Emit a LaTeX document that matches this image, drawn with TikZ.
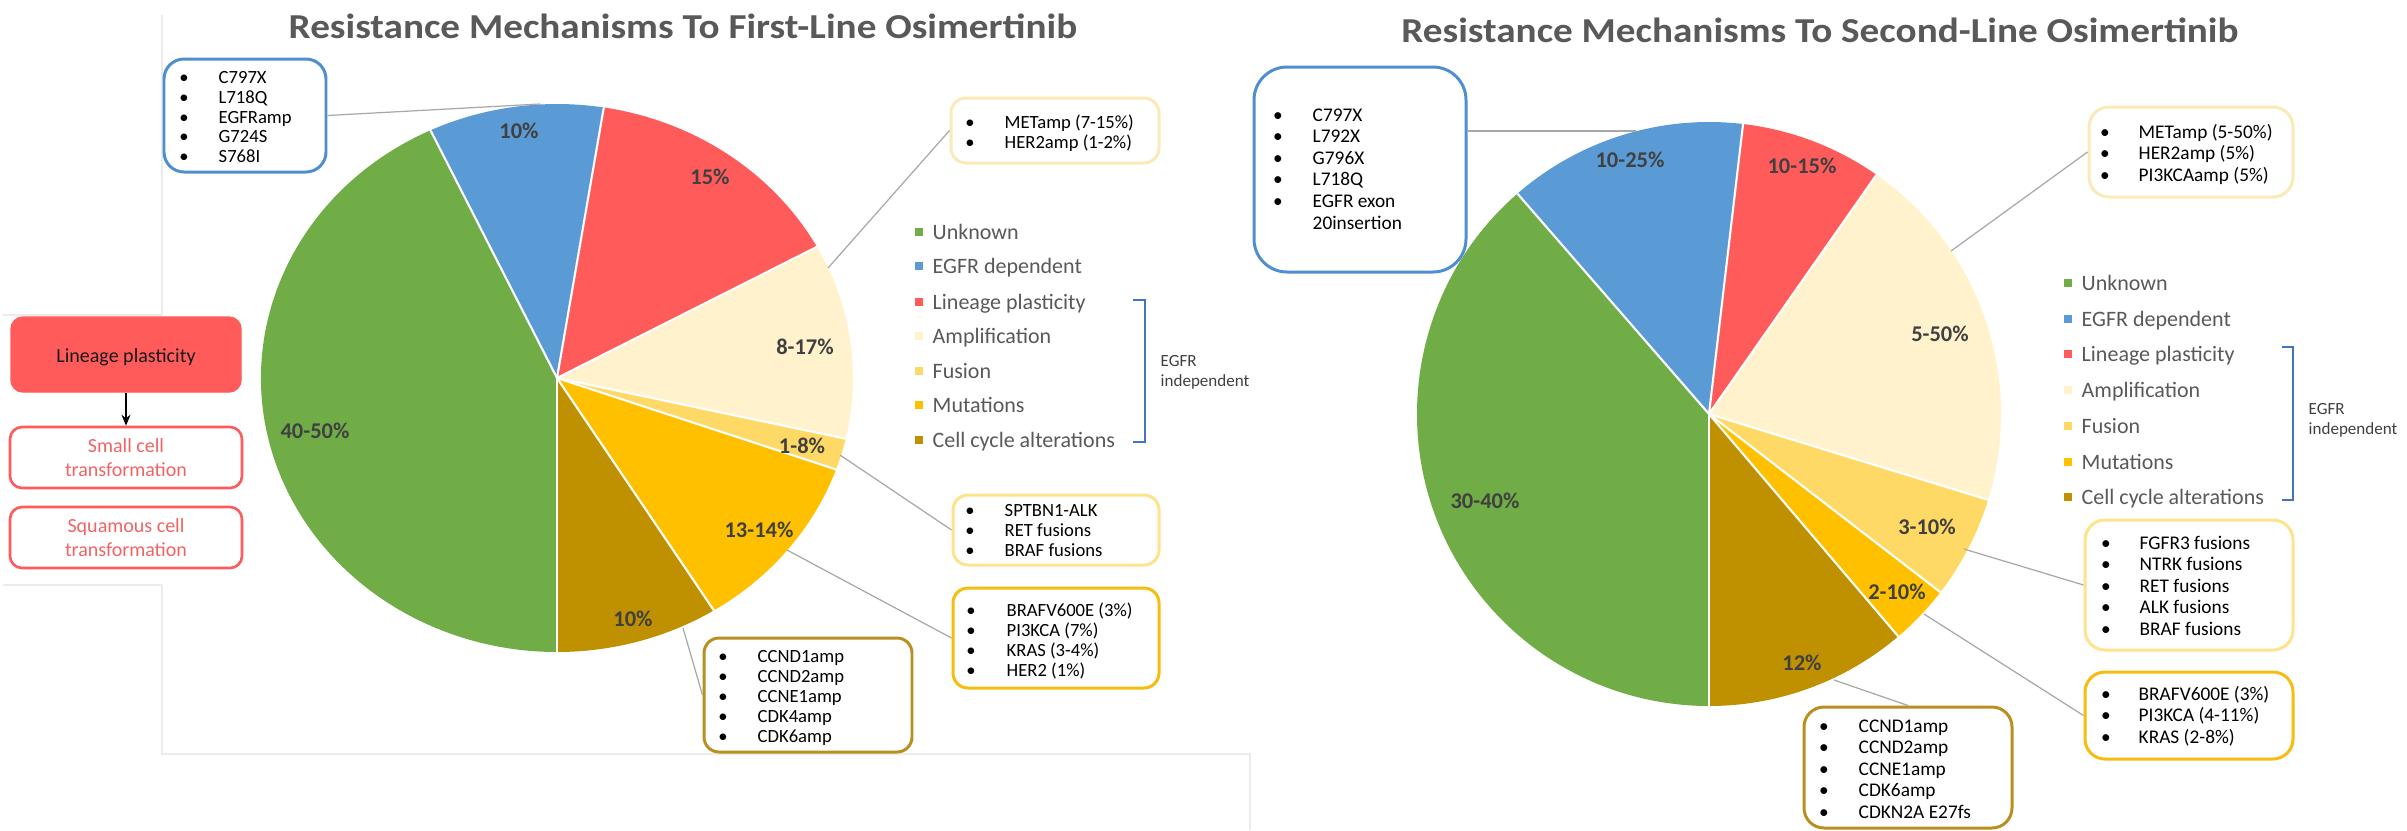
\documentclass[tikz,border=0pt]{standalone}
\usepackage{fontspec}
\setmainfont{Carlito}
\usetikzlibrary{arrows.meta}
\definecolor{cgreen}{HTML}{70AD47}
\definecolor{cblue}{HTML}{5B9BD5}
\definecolor{cbluebox}{HTML}{4F8FD0}
\definecolor{cred}{HTML}{FF5B5B}
\definecolor{ccream}{HTML}{FFF2CC}
\definecolor{cfus}{HTML}{FFD966}
\definecolor{cmut}{HTML}{FFC000}
\definecolor{cbrown}{HTML}{BF9000}
\definecolor{bmet}{HTML}{FBEAB8}
\definecolor{bfus}{HTML}{FFE28C}
\definecolor{bmut}{HTML}{F7BC10}
\definecolor{bccnd}{HTML}{B98F22}
\definecolor{ctitle}{HTML}{595959}
\definecolor{clab}{HTML}{404040}
\definecolor{cbrack}{HTML}{4472C4}
\definecolor{cconn}{HTML}{A8A8A8}
\definecolor{cframe}{HTML}{EBEBEB}
\definecolor{credtext}{HTML}{F06464}
\newcommand\pslice[7]{\fill[#7] (#1,#2) -- ({#1+#3*cos(#5)},{#2-#4*sin(#5)}) arc[start angle={-(#5)}, end angle={-(#6)}, x radius=#3, y radius=#4] -- cycle;}
\newcommand\prad[5]{\draw[sepline] (#1,#2) -- ({#1+#3*cos(#5)},{#2-#4*sin(#5)});}
\tikzset{
  sepline/.style={white, line width=0.6pt},
  ttl/.style={font=\bfseries\fontsize{9.96pt}{12pt}\selectfont, text=ctitle, inner sep=0pt, anchor=base},
  pct/.style={font=\bfseries\fontsize{6.4pt}{7pt}\selectfont, text=clab, inner sep=0pt},
  lgd/.style={font=\fontsize{6.26pt}{7pt}\selectfont, text=ctitle, inner sep=0pt, anchor=base west},
  lsq/.style={minimum size=0.8mm, inner sep=0pt},
  indep/.style={font=\fontsize{4.85pt}{5.7pt}\selectfont, text=clab, inner sep=0pt, align=left, anchor=west},
  ibox/.style={draw, line width=0.85pt, fill=white, inner sep=0pt},
  itl/.style={font=\fontsize{5.3pt}{5.69pt}\selectfont, inner sep=0pt},
  itr/.style={font=\fontsize{5.5pt}{6.15pt}\selectfont, inner sep=0pt},
  conn/.style={cconn, line width=0.35pt},
  brack/.style={cbrack, line width=0.55pt},
  frame/.style={cframe, line width=0.3pt},
  redbox/.style={draw=cred, line width=0.75pt, rounded corners=1.2mm, minimum width=23.2mm, minimum height=6.1mm, inner sep=0pt, align=center, font=\fontsize{5.7pt}{6.83pt}\selectfont, text=credtext}
}
\begin{document}
\begin{tikzpicture}[x=0.1mm, y=-0.1mm]
\useasboundingbox (0,0) rectangle (2407,830);
\fill[white] (0,0) rectangle (2407,830);

% faint frames
\draw[frame] (162,15) -- (162,315);
\draw[frame] (3,315) -- (162,315);
\draw[frame] (3,585) -- (162,585);
\draw[frame] (162,585) -- (162,754) -- (1250,754) -- (1250,830);

% titles
\node[ttl] (T1) at (683,38) {\scalebox{1.12}[1]{Resistance Mechanisms To First-Line Osimertinib}};
\node[ttl] (T2) at (1820,42) {\scalebox{1.12}[1]{Resistance Mechanisms To Second-Line Osimertinib}};

% ---------- left pie ----------
\pslice{557}{378}{296}{274}{80.9}{115.3}{cblue}
\pslice{557}{378}{296}{274}{28.6}{80.9}{cred}
\pslice{557}{378}{296}{274}{-12.8}{28.6}{ccream}
\pslice{557}{378}{296}{274}{-19.5}{-12.8}{cfus}
\pslice{557}{378}{296}{274}{-58}{-19.5}{cmut}
\pslice{557}{378}{296}{274}{-90}{-58}{cbrown}
\pslice{557}{378}{296}{274}{115.3}{270}{cgreen}
\foreach \a in {80.9,115.3,28.6,-12.8,-19.5,-58,-90}{\prad{557}{378}{296}{274}{\a}}

\node[pct] (l1) at (519,131) {10\%};
\node[pct] (l2) at (710,177) {15\%};
\node[pct] (l3) at (805,347) {8-17\%};
\node[pct] (l4) at (802,446) {1-8\%};
\node[pct] (l5) at (759,530) {13-14\%};
\node[pct] (l6) at (633,619) {10\%};
\node[pct] (l7) at (315,431) {40-50\%};

% left legend
\foreach \y/\c/\t [count=\i] in {232/cgreen/Unknown, 266/cblue/EGFR dependent, 302/cred/Lineage plasticity, 336/ccream/Amplification, 371/cfus/Fusion, 405/cmut/Mutations, 440/cbrown/Cell cycle alterations}{
  \node[lsq, fill=\c] (lsq\i) at (919,\y) {};
  \node[lgd] (lt\i) at (932,\y+7) {\t};
}
\draw[brack] (1133,300) -- (1145,300) -- (1145,442) -- (1133,442);
\node[indep] (lind) at (1160,372) {EGFR\\independent};

% left panel
\node[fill=cred, draw=cred, rounded corners=1.2mm, minimum width=23mm, minimum height=7.5mm, inner sep=0pt] (LP) at (126,354.5) {};
\node[font=\fontsize{5.7pt}{6.8pt}\selectfont, text=black!90, inner sep=0pt, anchor=base] (LPt) at (126,362) {Lineage plasticity};
\node[redbox] (SC) at (126,457.5) {Small cell\\transformation};
\node[redbox] (SQ) at (126,537.5) {Squamous cell\\transformation};
\draw[-{Stealth[length=1.1mm,width=0.9mm]}, line width=0.35pt] (LP.south) -- (SC.north);

% left boxes
\node[ibox, draw=cbluebox, rounded corners=2mm, minimum width=16.2mm, minimum height=11.3mm] (LB) at (245,115.5) {};
\node[itl, anchor=base] (LBb) at (184,83) {\begin{tabular}[t]{@{}c@{}}•\\•\\•\\•\\•\end{tabular}};
\node[itl, anchor=base west] (LBt) at (218,83) {\begin{tabular}[t]{@{}l@{}}C797X\\L718Q\\EGFRamp\\G724S\\S768I\end{tabular}};

\node[ibox, draw=bmet, rounded corners=1.5mm, minimum width=20.8mm, minimum height=6.5mm] (LM) at (1055,130.5) {};
\node[itl, anchor=base] (LMb) at (970,128) {\begin{tabular}[t]{@{}c@{}}•\\•\end{tabular}};
\node[itl, anchor=base west] (LMt) at (1004,128) {\begin{tabular}[t]{@{}l@{}}METamp (7-15\%)\\HER2amp (1-2\%)\end{tabular}};

\node[ibox, draw=bfus, rounded corners=1.5mm, minimum width=20.6mm, minimum height=7mm] (LF) at (1056,530) {};
\node[itl, anchor=base] (LFb) at (970,516) {\begin{tabular}[t]{@{}c@{}}•\\•\\•\end{tabular}};
\node[itl, anchor=base west] (LFt) at (1004,516) {\begin{tabular}[t]{@{}l@{}}SPTBN1-ALK\\RET fusions\\BRAF fusions\end{tabular}};

\node[ibox, draw=bmut, rounded corners=1.5mm, minimum width=20.6mm, minimum height=10mm] (LMu) at (1056,638) {};
\node[itl, anchor=base] (LMub) at (971,616) {\begin{tabular}[t]{@{}c@{}}•\\•\\•\\•\end{tabular}};
\node[itl, anchor=base west] (LMut) at (1006,616) {\begin{tabular}[t]{@{}l@{}}BRAFV600E (3\%)\\PI3KCA (7\%)\\KRAS (3-4\%)\\HER2 (1\%)\end{tabular}};

\node[ibox, draw=bccnd, rounded corners=1.5mm, minimum width=20.8mm, minimum height=11.4mm] (LC) at (808,695) {};
\node[itl, anchor=base] (LCb) at (723,662) {\begin{tabular}[t]{@{}c@{}}•\\•\\•\\•\\•\end{tabular}};
\node[itl, anchor=base west] (LCt) at (757,662) {\begin{tabular}[t]{@{}l@{}}CCND1amp\\CCND2amp\\CCNE1amp\\CDK4amp\\CDK6amp\end{tabular}};

% left connectors
\coordinate (lpB) at (540,104);
\coordinate (lpM) at (828,268);
\coordinate (lpF) at (840,455);
\coordinate (lpMu) at (787,550);
\coordinate (lpC) at (683,628);
\draw[conn] (LB.east) -- (lpB);
\draw[conn] (LM.west) -- (lpM);
\draw[conn] (LF.west) -- (lpF);
\draw[conn] (LMu.west) -- (lpMu);
\draw[conn] (LC.west) -- (lpC);

% ---------- right pie ----------
\pslice{1709}{414}{292}{292}{83.3}{131}{cblue}
\pslice{1709}{414}{292}{292}{55}{83.3}{cred}
\pslice{1709}{414}{292}{292}{-17.1}{55}{ccream}
\pslice{1709}{414}{292}{292}{-37.6}{-17.1}{cfus}
\pslice{1709}{414}{292}{292}{-49.6}{-37.6}{cmut}
\pslice{1709}{414}{292}{292}{-90}{-49.6}{cbrown}
\pslice{1709}{414}{292}{292}{131}{270}{cgreen}
\foreach \a in {83.3,131,55,-17.1,-37.6,-49.6,-90}{\prad{1709}{414}{292}{292}{\a}}

\node[pct] (r1) at (1630,160) {10-25\%};
\node[pct] (r2) at (1802,166) {10-15\%};
\node[pct] (r3) at (1940,334) {5-50\%};
\node[pct] (r4) at (1927,527) {3-10\%};
\node[pct] (r5) at (1897,592) {2-10\%};
\node[pct] (r6) at (1802,663) {12\%};
\node[pct] (r7) at (1485,501) {30-40\%};

% right legend
\foreach \y/\c/\t [count=\i] in {283/cgreen/Unknown, 319/cblue/EGFR dependent, 354/cred/Lineage plasticity, 390/ccream/Amplification, 426/cfus/Fusion, 462/cmut/Mutations, 497/cbrown/Cell cycle alterations}{
  \node[lsq, fill=\c] (rsq\i) at (2068,\y) {};
  \node[lgd] (rt\i) at (2081,\y+7) {\t};
}
\draw[brack] (2282,347) -- (2293,347) -- (2293,500) -- (2282,500);
\node[indep] (rind) at (2308,420) {EGFR\\independent};

% right boxes
\node[ibox, draw=cbluebox, rounded corners=3.3mm, minimum width=21.2mm, minimum height=20.5mm] (RB) at (1360,169.5) {};
\node[itr, anchor=base] (RBb) at (1278,121) {\begin{tabular}[t]{@{}c@{}}•\\•\\•\\•\\•\end{tabular}};
\node[itr, anchor=base west] (RBt) at (1312,121) {\begin{tabular}[t]{@{}l@{}}C797X\\L792X\\G796X\\L718Q\\EGFR exon\\20insertion\end{tabular}};

\node[ibox, draw=bmet, rounded corners=2mm, minimum width=20.4mm, minimum height=9mm] (RM) at (2191,152) {};
\node[itr, anchor=base] (RMb) at (2105,138) {\begin{tabular}[t]{@{}c@{}}•\\•\\•\end{tabular}};
\node[itr, anchor=base west] (RMt) at (2138,138) {\begin{tabular}[t]{@{}l@{}}METamp (5-50\%)\\HER2amp (5\%)\\PI3KCAamp (5\%)\end{tabular}};

\node[ibox, draw=bfus, rounded corners=2mm, minimum width=20.8mm, minimum height=13mm] (RF) at (2189,585) {};
\node[itr, anchor=base] (RFb) at (2106,549) {\begin{tabular}[t]{@{}c@{}}•\\•\\•\\•\\•\end{tabular}};
\node[itr, anchor=base west] (RFt) at (2139,549) {\begin{tabular}[t]{@{}l@{}}FGFR3 fusions\\NTRK fusions\\RET fusions\\ALK fusions\\BRAF fusions\end{tabular}};

\node[ibox, draw=bmut, rounded corners=2mm, minimum width=20.8mm, minimum height=8.7mm] (RMu) at (2189,715.5) {};
\node[itr, anchor=base] (RMub) at (2106,700) {\begin{tabular}[t]{@{}c@{}}•\\•\\•\end{tabular}};
\node[itr, anchor=base west] (RMut) at (2138,700) {\begin{tabular}[t]{@{}l@{}}BRAFV600E (3\%)\\PI3KCA (4-11\%)\\KRAS (2-8\%)\end{tabular}};

\node[ibox, draw=bccnd, rounded corners=2mm, minimum width=20.8mm, minimum height=12.1mm] (RC) at (1908,767.5) {};
\node[itr, anchor=base] (RCb) at (1824,732) {\begin{tabular}[t]{@{}c@{}}•\\•\\•\\•\\•\end{tabular}};
\node[itr, anchor=base west] (RCt) at (1858,732) {\begin{tabular}[t]{@{}l@{}}CCND1amp\\CCND2amp\\CCNE1amp\\CDK6amp\\CDKN2A E27fs\end{tabular}};

% right connectors
\coordinate (rpB) at (1636,131);
\coordinate (rpM) at (1951,251);
\coordinate (rpF) at (1964,549);
\coordinate (rpMu) at (1924,614);
\coordinate (rpC) at (1834,680);
\draw[conn] (RB.east |- rpB) -- (rpB);
\draw[conn] (RM.west) -- (rpM);
\draw[conn] (RF.west) -- (rpF);
\draw[conn] (RMu.west) -- (rpMu);
\draw[conn] (RC.north) -- (rpC);
\end{tikzpicture}
\end{document}
